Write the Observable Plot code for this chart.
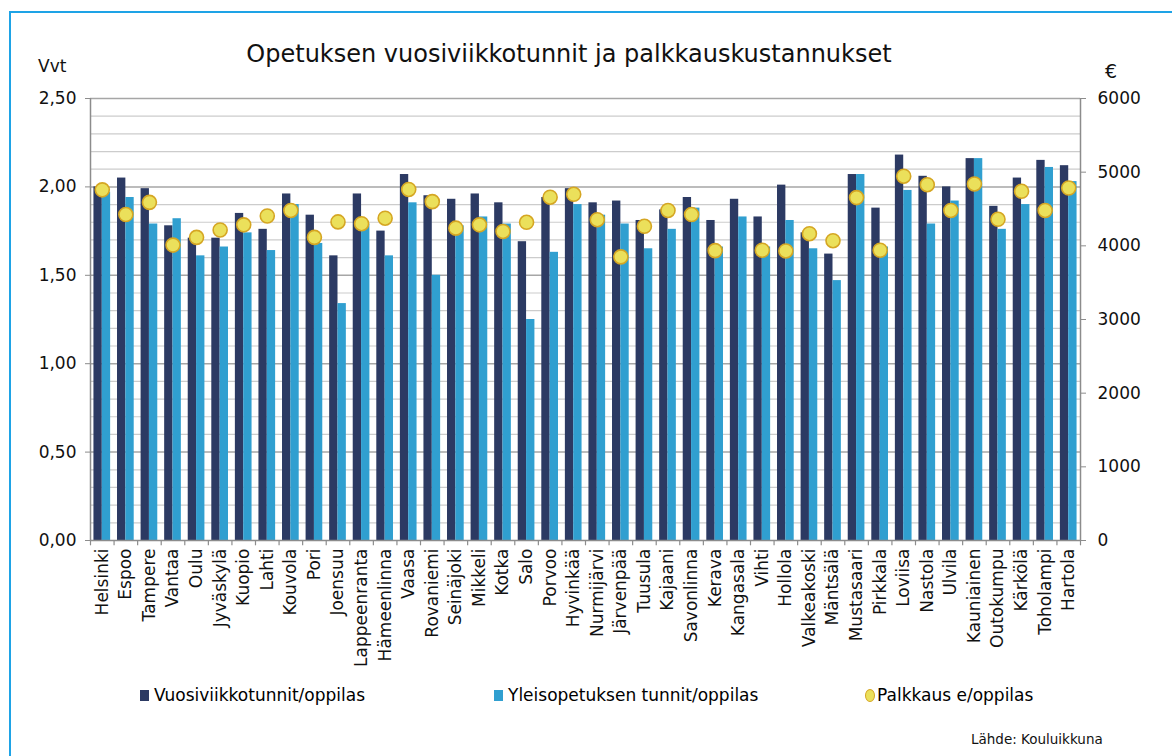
<!DOCTYPE html>
<html>
<head>
<meta charset="utf-8">
<script src="https://cdn.jsdelivr.net/npm/d3@7"></script>
<script src="https://cdn.jsdelivr.net/npm/@observablehq/plot@0.6"></script>
<style>
  body { margin: 0; background: #fff; font-family: "DejaVu Sans", Verdana, sans-serif; }
  #wrap { position: relative; width: 1172px; height: 756px; overflow: hidden; background: #fff; }
  #frame { position: absolute; left: 9px; top: 11px; width: 1300px; height: 900px;
           border-left: 2.5px solid #1ea3e6; border-top: 2.5px solid #1ea3e6; }
  #chart { position: absolute; left: 0; top: 0; }
  .t { position: absolute; color: #111; white-space: nowrap; }
  #title { left: 0; width: 1138px; text-align: center; top: 40px; font-size: 24px; }
  #vvt { left: 38px; top: 56px; font-size: 17px; }
  #eur { left: 1105px; top: 60px; font-size: 19px; }
  #legend { position: absolute; top: 685px; left: 0; width: 1172px; height: 24px; font-size: 17px; }
  .li { position: absolute; top: 0; display: flex; align-items: center; }
  .sw { width: 9px; height: 11px; margin-right: 5px; }
  .dotsw { width: 10px; height: 13px; border-radius: 50%; background: #ebe05b; border: 1px solid #d5a623; margin-right: 2px; box-sizing: border-box; }
  #source { left: 971px; top: 731px; font-size: 13.5px; }
</style>
</head>
<body>
<div id="wrap">
  <div id="frame"></div>
  <div id="chart"></div>
  <div class="t" id="title">Opetuksen vuosiviikkotunnit ja palkkauskustannukset</div>
  <div class="t" id="vvt">Vvt</div>
  <div class="t" id="eur">€</div>
  <div id="legend"></div>
  <div class="t" id="source">Lähde: Kouluikkuna</div>
</div>
<script>
const cities = ["Helsinki","Espoo","Tampere","Vantaa","Oulu","Jyväskylä","Kuopio","Lahti","Kouvola","Pori",
  "Joensuu","Lappeenranta","Hämeenlinna","Vaasa","Rovaniemi","Seinäjoki","Mikkeli","Kotka","Salo","Porvoo",
  "Hyvinkää","Nurmijärvi","Järvenpää","Tuusula","Kajaani","Savonlinna","Kerava","Kangasala","Vihti","Hollola",
  "Valkeakoski","Mäntsälä","Mustasaari","Pirkkala","Loviisa","Nastola","Ulvila","Kauniainen","Outokumpu","Kärkölä",
  "Toholampi","Hartola"];
const vuosiviikkotunnit = [2.00,2.05,1.99,1.78,1.71,1.71,1.85,1.76,1.96,1.84,
  1.61,1.96,1.75,2.07,1.95,1.93,1.96,1.91,1.69,1.94,
  1.99,1.91,1.92,1.81,1.87,1.94,1.81,1.93,1.83,2.01,
  1.74,1.62,2.07,1.88,2.18,2.06,2.00,2.16,1.89,2.05,
  2.15,2.12];
const yleisopetus = [1.97,1.94,1.79,1.82,1.61,1.66,1.74,1.64,1.90,1.68,
  1.34,1.79,1.61,1.91,1.50,1.78,1.83,1.79,1.25,1.63,
  1.90,1.84,1.79,1.65,1.76,1.88,1.66,1.83,1.66,1.81,
  1.65,1.47,2.07,1.66,1.98,1.79,1.92,2.16,1.76,1.90,
  2.11,2.03];
const palkkaus = [4760,4425,4590,4010,4115,4215,4285,4405,4480,4115,
  4325,4300,4375,4765,4600,4240,4285,4195,4320,4660,
  4700,4355,3850,4265,4480,4425,3935,null,3940,3930,
  4165,4070,4655,3940,4945,4830,4480,4840,4360,4740,
  4480,4785];
const leftTicks = [0, 0.5, 1, 1.5, 2, 2.5];
const rightTicks = [0, 1000, 2000, 3000, 4000, 5000, 6000];
const seriesNames = ["Vuosiviikkotunnit/oppilas", "Yleisopetuksen tunnit/oppilas", "Palkkaus e/oppilas"];
const colors = ["#2c3a63", "#309fd0", "#ebe05b"];

const rows = cities.map((c, i) => ({city: c, vvt: vuosiviikkotunnit[i], yleis: yleisopetus[i], palkka: palkkaus[i]}));

const W = 1172, H = 700, mL = 90, mR = 92, mT = 98, mB = H - 540;
const vvtMax = 2.5, eurMax = 6000, k = eurMax / vvtMax;
const step = (W - mL - mR) / cities.length;
const bw = step * 0.354;
const gap = (step - 2 * bw) / 2;
const fmt = d => d.toFixed(2).replace(".", ",");

const minor = d3.range(1, 25).filter(i => i % 5 !== 0).map(i => i / 10);
const major = [0.5, 1, 1.5, 2, 2.5];

const chart = Plot.plot({
  width: W, height: H,
  marginLeft: mL, marginRight: mR, marginTop: mT, marginBottom: mB,
  style: {fontFamily: '"DejaVu Sans", Verdana, sans-serif', color: "#111", background: "transparent"},
  x: {type: "band", domain: cities, padding: 0, round: false, axis: null},
  y: {domain: [0, vvtMax], axis: null},
  marks: [
    Plot.ruleY(minor, {stroke: "#cccccc", strokeWidth: 1.2}),
    Plot.ruleY(major, {stroke: "#a6a6a6", strokeWidth: 1.5}),
    Plot.barY(rows, {x: "city", y: "vvt", fill: colors[0], insetLeft: gap, insetRight: gap + bw}),
    Plot.barY(rows, {x: "city", y: "yleis", fill: colors[1], insetLeft: gap + bw, insetRight: gap}),
    Plot.ruleY([0], {stroke: "#8c8c8c", strokeWidth: 1.5}),
    Plot.ruleX(cities, {x: d => d, dx: -step / 2, y1: 0, y2: vvtMax, filter: (d, i) => i === 0, stroke: "#8c8c8c", strokeWidth: 1.5}),
    Plot.ruleX(cities, {x: d => d, dx: step / 2, y1: 0, y2: vvtMax, filter: (d, i) => i === cities.length - 1, stroke: "#8c8c8c", strokeWidth: 1.5}),
    Plot.ruleX(cities, {x: d => d, dx: -step / 2, y1: 0, y2: -0.03, stroke: "#8c8c8c", strokeWidth: 1.2}),
    Plot.ruleX(cities, {x: d => d, dx: step / 2, y1: 0, y2: -0.03, filter: (d, i) => i === cities.length - 1, stroke: "#8c8c8c", strokeWidth: 1.2}),
    Plot.dot(rows.filter(d => d.palkka != null), {x: "city", y: d => d.palkka / k, r: 7, fill: colors[2], stroke: "#d5a623", strokeWidth: 1.6}),
    Plot.axisY({anchor: "left", ticks: leftTicks, tickFormat: fmt, tickSize: 5, tickPadding: 9, fontSize: 17, label: null, stroke: "#8c8c8c"}),
    Plot.axisY({anchor: "right", ticks: rightTicks.map(e => e / k), tickFormat: d => String(Math.round(d * k)), tickSize: 5, tickPadding: 12, fontSize: 17, label: null, stroke: "#8c8c8c"}),
    Plot.axisX({tickSize: 0, tickRotate: -90, tickPadding: 8, fontSize: 17, label: null})
  ]
});
document.getElementById("chart").appendChild(chart);

const legend = document.getElementById("legend");
const lx = [140, 494, 865];
seriesNames.forEach((name, i) => {
  const item = document.createElement("div");
  item.className = "li";
  item.style.left = lx[i] + "px";
  const sw = document.createElement("div");
  if (i < 2) { sw.className = "sw"; sw.style.background = colors[i]; }
  else { sw.className = "dotsw"; }
  const tx = document.createElement("span");
  tx.textContent = name;
  item.appendChild(sw); item.appendChild(tx);
  legend.appendChild(item);
});
</script>
</body>
</html>
